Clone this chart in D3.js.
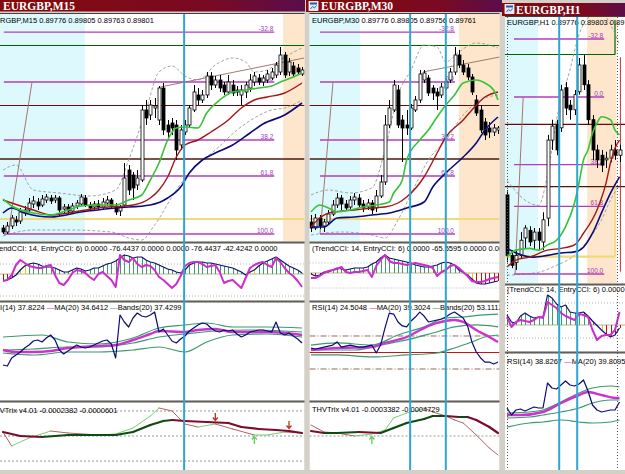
<!DOCTYPE html>
<html><head><meta charset="utf-8">
<script src="https://cdn.jsdelivr.net/npm/d3@7/dist/d3.min.js"></script>
<style>html,body{margin:0;padding:0;background:#d4d0c8;overflow:hidden}svg{display:block}</style>
</head><body>
<svg id="c" width="625" height="474"></svg>
<script>
// ===== DATA (quotes in points: 89508 = 0.89508) =====
const titles = ["EURGBP,M15", "EURGBP,M30", "EURGBP,H1"];
const mainHeaders = ["EURGBP,M15  0.89776 0.89805 0.89763 0.89801", "EURGBP,M30  0.89776 0.89805 0.89756 0.89761", "EURGBP,H1  0.89776 0.89803 0.89748 0.89751"];
const cciHeaders = ["(TrendCCI: 14, EntryCCI: 6)  0.0000 -76.4437 0.0000 0.0000 -76.4437 -42.4242 0.0000", "(TrendCCI: 14, EntryCCI: 6)  0.0000 -65.5595 0.0000 0.0000 -65.5595 -80.9960", "(TrendCCI: 14, EntryCCI: 6)  0.0000 -92.2179 0.0000 0.0000 -92.2179"];
const rsiHeaders = [["RSI(14) 37.8224  ", "MA(20) 34.6412  ", "Bands(20) 37.4299"], ["RSI(14) 24.5048  ", "MA(20) 39.3024  ", "Bands(20) 53.1112"], ["RSI(14) 38.8267  ", "MA(20) 39.8095  ", "Bands(20) 41.2230"]];
const trixHeaders = ["THVTrix v4.01 -0.0002382 -0.0000601", "THVTrix v4.01 -0.0003382 -0.0004729"];

const fibHigh = 89800, fibLow = 89496;
const fibLevels = [-32.8, 0, 38.2, 61.8, 100];
const hLines = [89873, 89753, 89646, 89526];

// [open, high, low, close]
const candlesM15 = [[89508,89514,89496,89500],[89500,89520,89496,89512],[89512,89534,89506,89528],[89524,89532,89512,89520],[89522,89548,89516,89540],[89538,89552,89532,89544],[89544,89568,89540,89558],[89556,89572,89548,89562],[89560,89568,89544,89552],[89554,89574,89550,89566],
[89564,89576,89558,89570],[89568,89574,89556,89562],[89564,89574,89558,89568],[89568,89572,89532,89544],[89546,89556,89538,89550],[89550,89556,89536,89542],[89542,89558,89536,89552],[89552,89564,89546,89558],[89556,89576,89552,89570],[89568,89574,89550,89554],
[89554,89560,89542,89548],[89550,89562,89544,89556],[89556,89564,89544,89550],[89550,89568,89546,89560],[89558,89572,89552,89564],[89564,89568,89546,89552],[89552,89558,89534,89540],[89542,89554,89532,89550],[89554,89638,89550,89608],[89624,89634,89574,89584],
[89614,89620,89564,89588],[89594,89624,89584,89608],[89604,89754,89600,89744],[89744,89764,89714,89728],[89734,89764,89724,89754],[89748,89768,89728,89752],[89724,89792,89714,89788],[89788,89798,89694,89704],[89714,89724,89688,89700],[89718,89728,89694,89708],
[89714,89724,89644,89664],[89674,89714,89664,89704],[89700,89724,89694,89714],[89714,89754,89708,89748],[89744,89794,89740,89780],[89774,89788,89754,89764],[89764,89784,89758,89774],[89774,89820,89768,89812],[89812,89820,89784,89794],[89794,89812,89788,89804],
[89804,89814,89780,89788],[89794,89800,89774,89780],[89780,89814,89774,89800],[89794,89804,89772,89778],[89784,89792,89772,89780],[89774,89794,89754,89784],[89780,89800,89768,89794],[89788,89816,89780,89804],[89800,89820,89792,89812],[89808,89816,89794,89800],
[89800,89814,89792,89808],[89804,89824,89798,89816],[89808,89828,89804,89820],[89814,89840,89808,89834],[89820,89870,89814,89854],[89854,89860,89808,89814],[89820,89848,89812,89840],[89832,89840,89810,89816],[89828,89836,89814,89820],[89816,89830,89812,89824]];

const candlesM30 = [[89520,89534,89500,89508],[89508,89536,89504,89528],[89528,89534,89506,89512],[89512,89526,89500,89520],[89520,89544,89514,89536],[89536,89564,89532,89554],[89554,89578,89548,89568],[89568,89574,89544,89556],[89556,89564,89542,89548],[89550,89572,89544,89564],
[89564,89578,89554,89570],[89568,89576,89548,89554],[89556,89564,89540,89548],[89550,89566,89544,89558],[89558,89564,89536,89544],[89548,89584,89540,89572],[89572,89614,89568,89600],[89600,89734,89594,89714],[89714,89764,89708,89748],[89744,89804,89740,89794],
[89784,89794,89708,89714],[89724,89734,89640,89708],[89714,89744,89694,89708],[89708,89756,89704,89748],[89744,89772,89740,89764],[89764,89824,89758,89816],[89804,89824,89798,89818],[89808,89814,89772,89778],[89788,89794,89764,89778],[89780,89788,89744,89772],
[89774,89798,89768,89790],[89788,89808,89784,89800],[89804,89828,89798,89820],[89820,89870,89814,89854],[89854,89864,89828,89834],[89834,89844,89814,89820],[89828,89836,89804,89810],[89810,89816,89774,89780],[89764,89774,89732,89738],[89744,89754,89698,89704],
[89720,89728,89684,89694],[89708,89720,89688,89700],[89700,89716,89692,89708],[89704,89712,89696,89708]];

const candlesH1 = [[89632,89640,89516,89528],[89528,89537,89506,89511],[89516,89537,89503,89528],[89528,89568,89523,89554],[89558,89580,89540,89575],[89571,89578,89544,89551],[89554,89575,89537,89568],[89568,89575,89537,89554],[89551,89602,89537,89589],[89592,89735,89578,89726],
[89726,89761,89709,89750],[89752,89761,89700,89709],[89747,89821,89740,89812],[89816,89826,89769,89781],[89786,89795,89761,89778],[89778,89812,89769,89804],[89809,89867,89804,89855],[89855,89872,89812,89821],[89821,89829,89752,89761],[89761,89769,89692,89709],
[89709,89718,89678,89692],[89700,89709,89671,89683],[89692,89706,89678,89695],[89695,89718,89688,89709],[89709,89726,89692,89700],[89700,89718,89688,89709]];

// moving averages & bollinger bands: [bar index, price]
const maFastM15 = [[0,89566],[2,89552],[7,89538],[11,89534],[15,89544],[18,89552],[22,89554],[26,89554],[29,89564],[32,89574],[34,89604],[36,89638],[38,89684],[40,89708],[42,89710],[45,89708],[47,89738],[50,89764],[53,89780],[56,89784],[59,89788],[62,89792],[64,89800],[67,89810],[69,89818]];
const maMidM15 = [[0,89564],[2,89558],[7,89544],[11,89534],[15,89538],[22,89548],[30,89554],[34,89568],[36,89584],[38,89610],[40,89650],[42,89674],[45,89684],[48,89700],[52,89724],[55,89748],[58,89764],[61,89770],[65,89778],[69,89798]];
const maSlowM15 = [[0,89538],[2,89548],[5,89538],[11,89530],[18,89540],[26,89548],[34,89554],[38,89568],[41,89590],[43,89618],[46,89644],[49,89658],[53,89674],[57,89698],[60,89716],[65,89734],[69,89758]];
const bbUpM15 = [[0,89624],[3,89634],[7,89584],[13,89578],[20,89572],[26,89584],[29,89644],[33,89744],[36,89820],[39,89832],[42,89812],[45,89804],[49,89834],[53,89848],[56,89840],[58,89820],[61,89824],[64,89844],[69,89868]];
const bbLoM15 = [[0,89492],[7,89504],[15,89504],[25,89500],[29,89488],[32,89484],[35,89514],[40,89584],[44,89628],[49,89664],[54,89704],[58,89728],[62,89744],[65,89748],[69,89764]];

const maFastM30 = [[0,89540],[2,89554],[4,89548],[6,89540],[9,89544],[12,89550],[15,89554],[18,89560],[19,89578],[21,89604],[22,89644],[25,89684],[27,89704],[29,89730],[31,89754],[33,89774],[35,89798],[38,89804],[40,89798],[42,89784],[43,89764]];
const maMidM30 = [[0,89510],[2,89528],[5,89540],[10,89544],[14,89548],[17,89550],[20,89558],[22,89570],[26,89610],[29,89658],[31,89690],[35,89724],[37,89744],[40,89770],[43,89780]];
const maSlowM30 = [[0,89510],[3,89510],[6,89528],[10,89530],[14,89534],[18,89538],[22,89548],[26,89560],[28,89590],[31,89618],[35,89650],[38,89678],[40,89704],[43,89730]];
const bbUpM30 = [[0,89574],[4,89584],[9,89578],[14,89588],[17,89664],[20,89774],[23,89824],[26,89874],[29,89870],[31,89840],[34,89860],[38,89878],[43,89868]];
const bbLoM30 = [[0,89494],[7,89500],[14,89494],[17,89488],[20,89524],[24,89594],[27,89644],[31,89684],[35,89734],[39,89764],[43,89774]];

const maFastH1 = [[0,89525],[2,89537],[5,89540],[7,89537],[9,89546],[11,89554],[13,89577],[15,89618],[16,89652],[17,89692],[18,89709],[19,89738],[20,89755],[21,89766],[23,89761],[24,89743],[25,89735]];
const maMidH1 = [[0,89508],[2,89520],[5,89525],[9,89537],[12,89540],[15,89546],[17,89566],[20,89606],[22,89652],[23,89687],[24,89712],[25,89726]];
const maSlowH1 = [[0,89540],[2,89532],[6,89525],[9,89528],[12,89532],[15,89534],[17,89542],[19,89566],[21,89601],[23,89635],[25,89663]];
const bbUpH1 = [[0,89657],[4,89623],[7,89614],[9,89666],[11,89761],[14,89847],[16,89907],[18,89936],[21,89946],[23,89924],[25,89890]];
const bbLoH1 = [[0,89494],[7,89499],[11,89511],[15,89528],[18,89554],[21,89589],[23,89623],[25,89649]];

// CCI per bar
const cciTrendM15 = [-70,-60,-40,-10,40,80,100,110,100,80,70,70,60,40,20,20,40,60,50,30,40,60,60,80,100,110,130,160,190,180,160,170,170,140,120,110,90,70,50,40,20,10,40,90,110,120,120,110,110,100,90,80,70,60,40,20,-10,20,40,80,110,130,150,170,140,110,80,60,40,10];
const cciEntryM15 = [-70,-60,-10,90,140,110,80,70,60,60,80,90,-10,-90,-110,-60,10,40,30,10,-30,-60,0,20,-20,-60,-130,190,140,120,160,100,70,90,80,40,-30,-60,-100,-140,-100,-20,80,110,120,120,100,70,80,90,20,-90,-70,-60,-100,-140,-40,60,90,110,120,90,70,160,120,60,10,-20,-70,-130];
const cciTrendM30 = [-10,-30,-20,10,10,30,50,40,30,40,50,50,50,60,90,110,150,180,150,140,130,120,110,100,80,70,60,60,70,80,100,110,100,80,30,5,-20,-60,-100,-110,-110,-100,-90,-80];
const cciEntryM30 = [-50,-50,-30,0,20,30,40,60,10,0,10,10,20,30,-40,70,130,180,120,100,100,90,80,90,100,90,80,70,50,-30,10,30,70,80,50,10,-30,-80,-90,-90,-80,-60,-50,-40];
const cciTrendH1 = [100,30,20,90,120,90,70,80,80,300,270,210,180,200,130,120,120,130,90,40,-5,-50,-90,-120,-100,-30];
const cciEntryH1 = [80,-20,30,50,40,30,50,80,70,230,200,170,120,90,70,50,110,100,80,-50,-150,-110,-100,-100,-50,130];

// RSI per bar, RSI MA and bands sparse [bar, value]
const rsiM15 = [20,19,27,30,33,37,40,44,45,43,47,50,45,35,31,34,37,40,38,37,38,40,42,44,45,41,27,70,63,58,67,72,69,68,70,73,53,56,50,44,42,46,49,54,57,60,62,61,57,54,53,55,54,55,51,48,50,53,54,55,55,54,53,63,52,50,52,49,46,42];
const rsiMaM15 = [[0,35],[3,33],[7,33],[11,34],[15,37],[18,38],[22,39],[26,40],[30,45],[34,51],[36,54],[42,53],[45,55],[49,56],[53,53],[57,53],[61,53],[65,52],[69,50]];
const rsiUpM15 = [[0,48],[9,50],[15,43],[22,41],[30,47],[36,57],[42,60],[47,62],[53,58],[61,58],[69,57]];
const rsiMidM15 = [[0,35],[7,36],[15,38],[22,38],[30,42],[36,48],[42,51],[49,54],[57,55],[69,53]];
const rsiLoM15 = [[0,32],[7,30],[15,33],[22,33],[30,35],[36,38],[42,33],[47,43],[53,50],[61,51],[69,48]];

const rsiM30 = [52.7,52.1,52.7,53.3,53.9,54.5,56.4,53.3,53.9,54.5,53.9,53.3,53.3,53.9,54.5,49.7,54.5,64.8,73.9,73.3,68.5,66.1,65.5,69.1,71.5,74.5,72.1,68.5,69.1,69.7,70.3,71.5,73.3,74.5,72.7,70.9,66.1,56.4,50.3,46.7,44.2,44.2,43.0,44.2];
const rsiMaM30 = [[0,51.5],[6,52.7],[14,53.3],[17,55.8],[22,59.4],[26,64.8],[29,67.9],[33,69.7],[35,68.5],[38,63.6],[41,59.4],[43,56.4]];
const rsiUpM30 = [[0,54.5],[6,55.8],[14,54.5],[20,60.6],[26,65.5],[31,70.9],[35,71.5],[39,72.7],[43,73.3]];
const rsiMidM30 = [[0,51.5],[10,51.5],[16,54.5],[22,57.6],[28,61.8],[33,65.5],[38,66.7],[43,65.5]];
const rsiLoM30 = [[0,48.5],[6,48.5],[14,47.3],[22,48.5],[29,49.7],[33,52.7],[37,56.4],[40,59.4],[43,60.6]];
const rsiLevelsM30 = [40, 50, 60];

const rsiH1 = [43.6,38,42,42.8,41.2,42.8,44.4,43.6,43.6,63.6,59.6,58.8,62,65.2,62,61.2,62.8,66,57.2,46,42,40.4,41.2,42,42,48.4];
const rsiMaH1 = [[0,38],[3,38],[8,40.4],[12,47.6],[16,54],[18,56.4],[21,54],[24,51.6],[25,51.6]];
const rsiUpH1 = [[0,39.6],[5,40.4],[8,42],[12,48.4],[16,55.6],[19,59.6],[23,61.2],[25,60.4]];
const rsiMidH1 = [[0,35.6],[5,36.4],[8,38],[12,40.4],[16,43.6],[19,47.6],[23,50],[25,50]];
const rsiLoH1 = [[0,28.4],[5,31.6],[8,32.4],[12,34],[16,32.4],[19,31.6],[23,32.4],[25,34]];

// THV Trix: main (thick) and signal (thin), [bar, value]
const trixM15 = [[0,0.00008],[4,0],[9,-0.00002],[15,0.00002],[21,0.00002],[26,0.00002],[30,0.00008],[34,0.00022],[37,0.0003],[39,0.00032],[42,0.0003],[47,0.00028],[52,0.00026],[55,0.00018],[59,0.00014],[63,0.00012],[66,0.0001],[69,0.00006]];
const trixSigM15 = [[0,0.00008],[2,-0.0002],[6,-0.00004],[11,0.0001],[15,0.00006],[22,0.00002],[26,0.00004],[30,0.00016],[34,0.0004],[36,0.00056],[39,0.0005],[42,0.00024],[45,0.00018],[49,0.00024],[53,0.00014],[58,0.00002],[61,0.00002],[65,0.00008],[69,0.00006]];
const trixSellM15 = [[49,0.00038],[66,0.00022]];
const trixBuyM15 = [[58,-0.00008]];
const trixM30 = [[0,0.0001],[3,0.00006],[6,0.00006],[11,0.00008],[16,0.00006],[19,0.00016],[22,0.00026],[26,0.00034],[28,0.0004],[31,0.0004],[34,0.00038],[36,0.00038],[38,0.00032],[41,0.00018],[43,0.00006]];
const trixSigM30 = [[0,0.00022],[3,0.00008],[6,0.00006],[10,0],[14,0.00004],[17,0.00012],[19,0.00036],[22,0.00046],[25,0.00052],[26,0.00056],[28,0.00048],[31,0.0004],[33,0.00032],[35,0.00026],[38,0.00002],[41,-0.00024],[43,-0.00038]];
const trixSellM30 = [];
const trixBuyM30 = [[14,-0.00008]];

// chart objects (bar positions)
const vLinesM15 = [41.8], vLinesM30 = [22.8, 31.0], vLinesH1 = [11.6, 15.6];
const periodSepH1 = [0, 24.35];
const redMarkH1 = [25.2, 89868, 89500];
const cyanM15 = [-1, 18.9], peachM15 = [64.65, 72];
const cyanM30 = [-1, 11.27], peachM30 = [34, 46];
const cyanH1 = [-1, 6.9], peachH1 = [17.8, 24.35];
const fibSpanM15 = [0.2, 62.6], fibSpanM30 = [2.07, 33.1], fibSpanH1 = [1.56, 21.6];
const fibDiagM15 = [1.15, 6.7], fibDiagM30 = [2.07, 5.06], fibDiagH1 = [1.8, 3.6];
const trendM15 = [[36.3, 89790], [69.5, 89848]];
const trendM30 = [[25.7, 89820], [43.4, 89850]];

// ===== RENDER =====
const FONT = "'Liberation Sans', Arial, sans-serif";
const svg = d3.select("#c");
const defs = svg.append("defs");
const grad = defs.append("linearGradient").attr("id", "tbg").attr("x1", 0).attr("x2", 1).attr("y1", 0).attr("y2", 0);
grad.append("stop").attr("offset", "0%").attr("stop-color", "#870909");
grad.append("stop").attr("offset", "70%").attr("stop-color", "#780a24");
grad.append("stop").attr("offset", "100%").attr("stop-color", "#5a0d4c");
let cid = 0;
function clip(x, y, w, h) {
  const id = "k" + (cid++);
  defs.append("clipPath").attr("id", id).append("rect").attr("x", x).attr("y", y).attr("width", w).attr("height", h);
  return "url(#" + id + ")";
}
function txt(g, x, y, s, size, color) {
  return g.append("text").attr("x", x).attr("y", y).attr("font-family", FONT).attr("font-size", size).attr("fill", color || "#000").text(s);
}
function area(P, yr) {
  const g = svg.append("g").attr("clip-path", clip(P.x0, yr[0], P.x1 - P.x0, yr[1] - yr[0]));
  g.append("rect").attr("x", P.x0).attr("y", yr[0]).attr("width", P.x1 - P.x0).attr("height", yr[1] - yr[0]).attr("fill", "#fff");
  return g;
}
function path(g, d, color, w, dash) {
  const p = g.append("path").attr("d", d).attr("fill", "none").attr("stroke", color).attr("stroke-width", w).attr("stroke-linejoin", "round");
  if (dash) p.attr("stroke-dasharray", dash);
  return p;
}
function segColored(g, arr, xs, y, up, down, w) {
  for (let i = 1; i < arr.length; i++) {
    const a = arr[i - 1], b = arr[i];
    g.append("line").attr("x1", xs(a[0])).attr("y1", y(a[1])).attr("x2", xs(b[0])).attr("y2", y(b[1]))
      .attr("stroke", b[1] >= a[1] ? up : down).attr("stroke-width", w).attr("stroke-linecap", "round");
  }
}
function hline(g, x1, x2, y, color, w, dash) {
  const l = g.append("line").attr("x1", x1).attr("x2", x2).attr("y1", y).attr("y2", y).attr("stroke", color).attr("stroke-width", w);
  if (dash) l.attr("stroke-dasharray", dash);
  return l;
}

const panels = [
  { x0: 0, x1: 304.5, xr: [3, 302], main: [14, 241], cci: [244, 300], rsiBox: [303, 400], trix: [403, 470], pr: [234, 82],
    tb: { x: -4, y: 0, w: 309, h: 11.5, tx: 3, ty: 10, icon: false }, hx: -10.3,
    hy: { main: 22.5, cci: 251, rsi: 309.5, trix: 412.5 },
    title: titles[0], mainHeader: mainHeaders[0], cciHeader: cciHeaders[0], rsiHeader: rsiHeaders[0], trixHeader: trixHeaders[0],
    candles: candlesM15, maFast: maFastM15, maMid: maMidM15, maSlow: maSlowM15, bbUp: bbUpM15, bbLo: bbLoM15,
    cyan: cyanM15, peach: peachM15, fibSpan: fibSpanM15, fibDiag: fibDiagM15, trend: trendM15, vlines: vLinesM15,
    cciT: cciTrendM15, cciE: cciEntryM15, cciDom: [-260, 300], cciLevels: [100, -220],
    rsiV: rsiM15, rsiMa: rsiMaM15, rsiUp: rsiUpM15, rsiMid: rsiMidM15, rsiLo: rsiLoM15, rsiDom: [-15, 82], rsiLevels: null,
    trixMain: trixM15, trixSig: trixSigM15, sell: trixSellM15, buy: trixBuyM15, trixLevels: [-0.0005, 0, 0.0005] },
  { x0: 309.5, x1: 499.5, xr: [311, 498], main: [14, 241], cci: [244, 300], rsiBox: [303, 400], trix: [403, 470], pr: [234, 82],
    tb: { x: 306, y: 0, w: 196, h: 12, tx: 321, ty: 10, icon: true }, hx: 312,
    hy: { main: 22.5, cci: 251, rsi: 309.5, trix: 412 },
    title: titles[1], mainHeader: mainHeaders[1], cciHeader: cciHeaders[1], rsiHeader: rsiHeaders[1], trixHeader: trixHeaders[1],
    candles: candlesM30, maFast: maFastM30, maMid: maMidM30, maSlow: maSlowM30, bbUp: bbUpM30, bbLo: bbLoM30,
    cyan: cyanM30, peach: peachM30, fibSpan: fibSpanM30, fibDiag: fibDiagM30, trend: trendM30, vlines: vLinesM30,
    cciT: cciTrendM30, cciE: cciEntryM30, cciDom: [-270, 290], cciLevels: [100, -150],
    rsiV: rsiM30, rsiMa: rsiMaM30, rsiUp: rsiUpM30, rsiMid: rsiMidM30, rsiLo: rsiLoM30, rsiDom: [21.21, 80], rsiLevels: rsiLevelsM30,
    trixMain: trixM30, trixSig: trixSigM30, sell: trixSellM30, buy: trixBuyM30, trixLevels: [0] },
  { x0: 505, x1: 625, xr: [507, 619.5], main: [17, 283], cci: [286, 351], rsiBox: [354, 470], trix: null, pr: [274, 97],
    tb: { x: 502, y: 3, w: 126, h: 13, tx: 516, ty: 13.5, icon: true }, hx: 507,
    hy: { main: 24.5, cci: 292, rsi: 363.5 },
    title: titles[2], mainHeader: mainHeaders[2], cciHeader: cciHeaders[2], rsiHeader: rsiHeaders[2],
    candles: candlesH1, maFast: maFastH1, maMid: maMidH1, maSlow: maSlowH1, bbUp: bbUpH1, bbLo: bbLoH1,
    cyan: cyanH1, peach: peachH1, fibSpan: fibSpanH1, fibDiag: fibDiagH1, trend: null, vlines: vLinesH1,
    hEnd: 24.0, seps: periodSepH1, redMark: redMarkH1,
    cciT: cciTrendH1, cciE: cciEntryH1, cciDom: [-260, 390], cciLevels: [220, -130],
    rsiV: rsiH1, rsiMa: rsiMaH1, rsiUp: rsiUpH1, rsiMid: rsiMidH1, rsiLo: rsiLoH1, rsiDom: [-6, 86.8], rsiLevels: null }
];

const hStyle = [["#006400", 1.2], ["#6b0a0a", 1.2], ["#4a1a10", 1.4], ["#f0da7a", 2.2]];

function drawMain(P) {
  const [y0, y1] = P.main;
  const g = area(P, P.main);
  const xs = P.xs, ys = P.ys;
  g.append("rect").attr("x", xs(P.cyan[0])).attr("y", y0).attr("width", xs(P.cyan[1]) - xs(P.cyan[0])).attr("height", y1 - y0).attr("fill", "#ddf9fd");
  g.append("rect").attr("x", xs(P.peach[0])).attr("y", y0).attr("width", xs(P.peach[1]) - xs(P.peach[0])).attr("height", y1 - y0).attr("fill", "#fde6cb");
  hLines.forEach((p, i) => {
    const xe = P.hEnd != null && (i === 0 || i === 3) ? xs(P.hEnd) : P.x1;
    hline(g, P.x0, xe, ys(p), hStyle[i][0], hStyle[i][1]);
  });
  if (P.hEnd != null) {
    const xe = xs(P.hEnd);
    g.append("line").attr("x1", xe).attr("x2", xe).attr("y1", y0 + 3).attr("y2", ys(hLines[0])).attr("stroke", hStyle[0][0]).attr("stroke-width", 1.2);
    g.append("line").attr("x1", xe).attr("x2", xe).attr("y1", ys(89650)).attr("y2", ys(hLines[3])).attr("stroke", hStyle[3][0]).attr("stroke-width", 1.6);
  }
  const lineS = d3.line().x(d => xs(d[0])).y(d => ys(d[1])).curve(d3.curveMonotoneX);
  [P.bbUp, P.bbLo].forEach(a => path(g, lineS(a), "#9a9a9a", 0.9, "3,2"));
  const fx1 = xs(P.fibSpan[0]), fx2 = xs(P.fibSpan[1]);
  fibLevels.forEach(L => {
    const y = ys(fibHigh - (fibHigh - fibLow) * L / 100);
    hline(g, fx1, fx2, y, "#b43cbc", 1.4);
    g.append("text").attr("x", fx2 - 1).attr("y", y - 1).attr("text-anchor", "end").attr("font-family", FONT)
      .attr("font-size", 6.5).attr("fill", "#9a44b8").text(L.toFixed(1));
  });
  g.append("line").attr("x1", xs(P.fibDiag[0])).attr("y1", ys(fibLow)).attr("x2", xs(P.fibDiag[1])).attr("y2", ys(fibHigh))
    .attr("stroke", "#a0685a").attr("stroke-width", 0.9);
  if (P.trend) g.append("line").attr("x1", xs(P.trend[0][0])).attr("y1", ys(P.trend[0][1])).attr("x2", xs(P.trend[1][0])).attr("y2", ys(P.trend[1][1]))
    .attr("stroke", "#8e6e64").attr("stroke-width", 0.9);
  if (P.redMark) {
    const x = xs(P.redMark[0]);
    g.append("line").attr("x1", x).attr("x2", x).attr("y1", ys(P.redMark[1])).attr("y2", ys(P.redMark[2])).attr("stroke", "#b03a30").attr("stroke-width", 1);
  }
  P.candles.forEach((c, i) => {
    const [o, h, l, cl] = c, x = Math.round(xs(i)) + 0.5;
    g.append("line").attr("x1", x).attr("x2", x).attr("y1", ys(h)).attr("y2", ys(l)).attr("stroke", "#000").attr("stroke-width", 1);
    const top = ys(Math.max(o, cl)), bot = ys(Math.min(o, cl));
    g.append("rect").attr("x", x - 1.5).attr("y", top).attr("width", 3).attr("height", Math.max(1, bot - top))
      .attr("fill", cl >= o ? "#fff" : "#000").attr("stroke", "#000").attr("stroke-width", 0.8);
  });
  path(g, lineS(P.maSlow), "#0b0b80", 1.6);
  path(g, lineS(P.maMid), "#a51616", 1.4);
  path(g, lineS(P.maFast), "#35c435", 1.6);
  txt(g, P.hx, P.hy.main, P.mainHeader, 7.5);
}

function drawCCI(P) {
  const [y0, y1] = P.cci, xs = P.xs;
  const g = area(P, P.cci);
  const yc = d3.scaleLinear().domain(P.cciDom).range([y1, y0]);
  P.cciLevels.forEach(v => hline(g, P.x0, P.x1, yc(v), "#a0a0a0", 0.8, "1,2"));
  hline(g, P.x0, P.x1, yc(0), "#b6b68e", 1);
  const T = P.cciT;
  T.forEach((v, i) => {
    const s = Math.sign(v) || 1;
    const p1 = i >= 1 ? (Math.sign(T[i - 1]) || 1) : s, p2 = i >= 2 ? (Math.sign(T[i - 2]) || 1) : s;
    const col = (p1 !== s || p2 !== s) ? "#e8c21a" : (s < 0 ? "#c01010" : "#3f9a72");
    const x = Math.round(xs(i)) + 0.5;
    g.append("line").attr("x1", x).attr("x2", x).attr("y1", yc(0)).attr("y2", yc(v)).attr("stroke", col).attr("stroke-width", 1);
  });
  const ln = d3.line().x((d, i) => xs(i)).y(d => yc(d));
  path(g, ln(P.cciT), "#101070", 1.2);
  path(g, ln(P.cciE), "#cc2dcc", 2);
  txt(g, P.hx, P.hy.cci, P.cciHeader, 7.5);
}

function drawRSI(P) {
  const [y0, y1] = P.rsiBox, xs = P.xs;
  const g = area(P, P.rsiBox);
  const yr = d3.scaleLinear().domain(P.rsiDom).range([y1, y0]);
  if (P.rsiLevels) {
    P.rsiLevels.forEach(v => {
      if (v === 50) hline(g, P.x0, P.x1, yr(v), "#c81414", 1.2);
      else hline(g, P.x0, P.x1, yr(v), "#8c5a4a", 0.9, "6,2,1,2");
    });
  }
  const ls = d3.line().x(d => xs(d[0])).y(d => yr(d[1])).curve(d3.curveMonotoneX);
  [P.rsiUp, P.rsiMid, P.rsiLo].forEach(a => path(g, ls(a), "#3a9a6e", 1.2));
  path(g, ls(P.rsiMa), "#cc33cc", 2.4);
  path(g, d3.line().x((d, i) => xs(i)).y(d => yr(d))(P.rsiV), "#0b0b78", 1.2);
  const t = g.append("text").attr("x", P.hx).attr("y", P.hy.rsi).attr("font-family", FONT).attr("font-size", 7.5).attr("fill", "#000");
  t.append("tspan").text(P.rsiHeader[0]);
  t.append("tspan").attr("fill", "#cc33cc").text("\u2014");
  t.append("tspan").text(P.rsiHeader[1]);
  t.append("tspan").attr("fill", "#3a9a6e").text("\u2014");
  t.append("tspan").text(P.rsiHeader[2]);
}

function arrow(g, x, y, dir, color) {
  const d = dir < 0
    ? `M${x},${y - 4}V${y + 3}M${x - 2.5},${y + 0.5}L${x},${y + 3.5}L${x + 2.5},${y + 0.5}`
    : `M${x},${y + 4}V${y - 3}M${x - 2.5},${y - 0.5}L${x},${y - 3.5}L${x + 2.5},${y - 0.5}`;
  g.append("path").attr("d", d).attr("fill", "none").attr("stroke", color).attr("stroke-width", 1.3);
}

function drawTrix(P) {
  const [y0, y1] = P.trix, xs = P.xs;
  const g = area(P, P.trix);
  const yt = d3.scaleLinear().domain([-0.00068, 0.00066]).range([y1, y0]);
  P.trixLevels.forEach(v => hline(g, P.x0, P.x1, yt(v), "#8a8a8a", 0.9, "2,2"));
  segColored(g, P.trixSig, xs, yt, "#74d074", "#a8675f", 1);
  segColored(g, P.trixMain, xs, yt, "#0e4d12", "#7e0b2c", 2.2);
  P.sell.forEach(d => arrow(g, xs(d[0]), yt(d[1]), -1, "#c0341c"));
  P.buy.forEach(d => arrow(g, xs(d[0]), yt(d[1]), 1, "#5fd05f"));
  txt(g, P.hx, P.hy.trix, P.trixHeader, 7.5);
}

function sep(P, y) {
  svg.append("rect").attr("x", P.x0).attr("y", y).attr("width", P.x1 - P.x0).attr("height", 3).attr("fill", "#c8c4bc");
  hline(svg, P.x0, P.x1, y + 1.5, "#5e5e5e", 1.6);
}

function titleBar(P) {
  const t = P.tb;
  svg.append("rect").attr("x", t.x).attr("y", t.y).attr("width", t.w).attr("height", t.h).attr("fill", "url(#tbg)");
  if (t.icon) {
    const ix = t.x + 3, iy = t.y + 1.5;
    svg.append("rect").attr("x", ix).attr("y", iy).attr("width", 9).attr("height", 9).attr("fill", "#dce9f7").attr("stroke", "#fff").attr("stroke-width", 0.8);
    svg.append("rect").attr("x", ix + 1).attr("y", iy + 1).attr("width", 7).attr("height", 2).attr("fill", "#2a5aa8");
    svg.append("path").attr("d", `M${ix + 1.5},${iy + 7.5}L${ix + 3.5},${iy + 5}L${ix + 5.5},${iy + 6.5}L${ix + 7.5},${iy + 4}`).attr("fill", "none").attr("stroke", "#2a5aa8").attr("stroke-width", 0.9);
  }
  svg.append("text").attr("x", t.tx).attr("y", t.ty).attr("font-family", "'Liberation Serif', 'Times New Roman', serif")
    .attr("font-weight", "bold").attr("font-size", 11.5).attr("fill", "#fff").text(P.title);
}

panels.forEach(P => {
  P.xs = d3.scaleLinear().domain([0, P.candles.length - 1]).range(P.xr);
  P.ys = d3.scaleLinear().domain([fibLow, fibHigh]).range(P.pr);
  titleBar(P);
  hline(svg, P.x0, P.x1, P.main[0] - 0.5, "#404040", 1);
  drawMain(P);
  drawCCI(P);
  drawRSI(P);
  if (P.trix) drawTrix(P);
  sep(P, P.main[1]);
  sep(P, P.cci[1]);
  if (P.trix) sep(P, P.rsiBox[1]);
  const yEnd = P.trix ? P.trix[1] : P.rsiBox[1];
  (P.seps || []).forEach(s => {
    const x = Math.round(P.xs(s)) + 0.5;
    svg.append("line").attr("x1", x).attr("x2", x).attr("y1", P.main[0]).attr("y2", yEnd).attr("stroke", "#555").attr("stroke-width", 1).attr("stroke-dasharray", "1,2");
  });
  P.vlines.forEach(v => {
    const x = P.xs(v);
    svg.append("line").attr("x1", x).attr("x2", x).attr("y1", P.main[0]).attr("y2", yEnd).attr("stroke", "#2ea6d2").attr("stroke-width", 2);
  });
});
</script>
</body></html>
